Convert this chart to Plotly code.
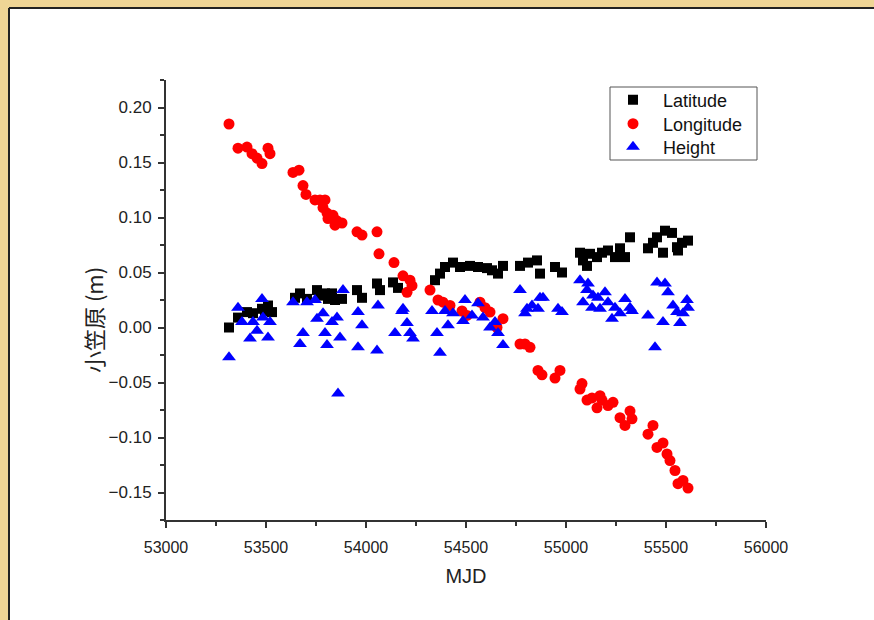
import plotly.graph_objects as go

# ---- data ----
lat_x = [53315, 53360, 53405, 53435, 53480, 53495, 53510, 53530, 53645, 53670, 53705, 53755,
         53770, 53795, 53810, 53830, 53845, 53880, 53955, 53980, 54055, 54070, 54135, 54160,
         54345, 54370, 54395, 54435, 54470, 54520, 54560, 54605, 54630, 54660, 54685, 54770,
         54810, 54855, 54870, 54945, 54980, 55070, 55085, 55105, 55120, 55155, 55180, 55210,
         55245, 55270, 55295, 55320, 55410, 55435, 55455, 55485, 55495, 55530, 55555, 55560,
         55580, 55610]
lat_y = [0.000, 0.009, 0.014, 0.013, 0.017, 0.015, 0.020, 0.014, 0.027, 0.031, 0.026, 0.034,
         0.029, 0.031, 0.026, 0.031, 0.025, 0.026, 0.034, 0.027, 0.040, 0.034, 0.041, 0.036,
         0.043, 0.049, 0.055, 0.059, 0.055, 0.056, 0.055, 0.054, 0.052, 0.049, 0.056, 0.056,
         0.059, 0.061, 0.049, 0.055, 0.050, 0.068, 0.061, 0.056, 0.067, 0.064, 0.068, 0.070,
         0.064, 0.072, 0.064, 0.082, 0.072, 0.077, 0.082, 0.068, 0.088, 0.086, 0.073, 0.070,
         0.077, 0.079]

lon_x = [53315, 53360, 53405, 53430, 53455, 53480, 53510, 53520, 53635, 53665, 53685, 53700,
         53745, 53770, 53795, 53785, 53805, 53810, 53835, 53855, 53845, 53880, 53955, 53980,
         54055, 54065, 54140, 54185, 54220, 54230, 54205, 54320, 54360, 54385, 54420, 54480,
         54505, 54570, 54595, 54620, 54685, 54655, 54770, 54795, 54820, 54860, 54880, 54970,
         54945, 55080, 55070, 55105, 55130, 55155, 55170, 55180, 55210, 55235, 55270, 55295,
         55320, 55330, 55410, 55435, 55455, 55485, 55505, 55520, 55545, 55560, 55585, 55610]
lon_y = [0.185, 0.163, 0.164, 0.158, 0.154, 0.149, 0.163, 0.158, 0.141, 0.143, 0.129, 0.121,
         0.116, 0.116, 0.116, 0.109, 0.104, 0.099, 0.102, 0.097, 0.093, 0.095, 0.087, 0.084,
         0.087, 0.067, 0.059, 0.047, 0.043, 0.038, 0.032, 0.034, 0.025, 0.023, 0.020, 0.015,
         0.011, 0.023, 0.018, 0.014, 0.008, 0.000, -0.015, -0.015, -0.018, -0.039, -0.043, -0.039,
         -0.046, -0.051, -0.056, -0.066, -0.064, -0.073, -0.062, -0.066, -0.071, -0.068, -0.082, -0.089,
         -0.076, -0.083, -0.097, -0.089, -0.109, -0.105, -0.115, -0.121, -0.130, -0.142, -0.139, -0.146]

hgt_x = [53315, 53360, 53380, 53420, 53435, 53455, 53480, 53485, 53510, 53520, 53635, 53670,
         53685, 53705, 53745, 53755, 53785, 53795, 53805, 53830, 53855, 53870, 53885, 53860,
         53960, 53980, 53960, 54060, 54055, 54145, 54180, 54185, 54205, 54220, 54235, 54330,
         54355, 54370, 54395, 54410, 54435, 54495, 54485, 54530, 54560, 54585, 54620, 54645,
         54660, 54685, 54770, 54805, 54830, 54870, 54860, 54795, 54885, 54960, 54980, 55070,
         55110, 55105, 55085, 55135, 55130, 55160, 55170, 55195, 55210, 55230, 55245, 55270,
         55295, 55320, 55330, 55410, 55445, 55455, 55495, 55510, 55485, 55535, 55555, 55570,
         55605, 55610, 55585]
hgt_y = [-0.027, 0.018, 0.005, -0.010, 0.005, -0.003, 0.026, 0.009, -0.009, 0.005, 0.023, -0.015,
         -0.005, 0.023, 0.025, 0.008, 0.013, -0.005, -0.016, 0.005, 0.009, -0.009, 0.034, -0.060,
         0.014, 0.002, -0.018, 0.020, -0.021, -0.005, 0.015, 0.017, 0.004, -0.005, -0.010, 0.015,
         -0.005, -0.023, 0.015, 0.002, 0.013, 0.025, 0.006, 0.011, 0.022, 0.009, 0.000, 0.005,
         -0.005, -0.016, 0.034, 0.017, 0.020, 0.027, 0.017, 0.013, 0.027, 0.017, 0.014, 0.043,
         0.040, 0.034, 0.023, 0.029, 0.018, 0.027, 0.017, 0.032, 0.023, 0.008, 0.018, 0.013,
         0.026, 0.018, 0.015, 0.011, -0.018, 0.041, 0.040, 0.032, 0.005, 0.020, 0.014, 0.004,
         0.025, 0.018, 0.013]

x_range = [53000, 56000]
y_range = [-0.175, 0.225]
x_ticks = [53000, 53500, 54000, 54500, 55000, 55500, 56000]
y_ticks = [-0.15, -0.10, -0.05, 0.00, 0.05, 0.10, 0.15, 0.20]

FONT = "Liberation Sans, Arial, sans-serif"
GOLD = "#efd595"

fig = go.Figure()
fig.add_trace(go.Scatter(x=lat_x, y=lat_y, mode="markers", name="Latitude", legend="legend",
                         marker=dict(symbol="square", size=10, color="#000000", line=dict(width=0))))
fig.add_trace(go.Scatter(x=lon_x, y=lon_y, mode="markers", name="Longitude", legend="legend2",
                         marker=dict(symbol="circle", size=11, color="#ff0000", line=dict(width=0))))
fig.add_trace(go.Scatter(x=hgt_x, y=hgt_y, mode="markers", name="Height", legend="legend3",
                         marker=dict(symbol="triangle-up", size=12, color="#0000ff", line=dict(width=0))))

# plot area: x 166..766 px, y 80..520 px
L, R, T, B = 166, 108, 80, 100
W, H = 874, 620
pw, ph = W - L - R, H - T - B

def px_x(p):
    return (p - L) / pw

def px_y(p):
    return (H - B - p) / ph

shapes = [
    # golden frame strips (left and top)
    dict(type="rect", xref="paper", yref="paper", x0=px_x(0), x1=px_x(9), y0=px_y(H), y1=px_y(0),
         fillcolor=GOLD, line=dict(width=0), layer="below"),
    dict(type="rect", xref="paper", yref="paper", x0=px_x(0), x1=px_x(W), y0=px_y(8), y1=px_y(0),
         fillcolor=GOLD, line=dict(width=0), layer="below"),
    # dark edge lines of the white panel
    dict(type="line", xref="paper", yref="paper", x0=px_x(9), x1=px_x(9), y0=px_y(H), y1=px_y(8),
         line=dict(color="#222222", width=2), layer="below"),
    dict(type="line", xref="paper", yref="paper", x0=px_x(9), x1=px_x(W), y0=px_y(8), y1=px_y(8),
         line=dict(color="#222222", width=2), layer="below"),
    # white panel on the right edge (keeps the right side white)
    dict(type="rect", xref="paper", yref="paper", x0=px_x(800), x1=px_x(W), y0=px_y(H), y1=px_y(9),
         fillcolor="white", line=dict(width=0), layer="above"),
    # legend box
    dict(type="rect", xref="paper", yref="paper", x0=px_x(610), x1=px_x(757), y0=px_y(160), y1=px_y(87),
         fillcolor="white", line=dict(color="#555555", width=1), layer="below"),
]

leg_common = dict(xanchor="left", yanchor="middle", borderwidth=0, bgcolor="rgba(0,0,0,0)",
                  font=dict(family=FONT, size=18, color="#111111"), itemwidth=50)

fig.update_layout(
    width=W, height=H,
    margin=dict(l=L, r=R, t=T, b=B),
    paper_bgcolor="white",
    plot_bgcolor="rgba(0,0,0,0)",
    font=dict(family=FONT, color="#222222", size=16),
    showlegend=True,
    legend=dict(x=px_x(603), y=px_y(100), **leg_common),
    legend2=dict(x=px_x(603), y=px_y(124), **leg_common),
    legend3=dict(x=px_x(603), y=px_y(147), **leg_common),
    shapes=shapes,
    annotations=[dict(text="小笠原 (m)", textangle=-90, xref="paper", yref="paper",
                      x=px_x(93), y=px_y(320), xanchor="center", yanchor="middle", showarrow=False,
                      font=dict(size=22, family="Noto Sans CJK JP, sans-serif", color="#222222"))],
)

fig.update_xaxes(
    range=x_range, tickvals=x_ticks, tickformat="d",
    showgrid=False, zeroline=False,
    showline=True, linecolor="#333333", linewidth=2,
    ticks="outside", ticklen=6, tickwidth=1.5, tickcolor="#333333",
    minor=dict(dtick=250, ticks="outside", ticklen=4, tickwidth=1.5, tickcolor="#333333", showgrid=False),
    tickfont=dict(size=16, family=FONT, color="#222222"),
    ticklabelstandoff=6,
    title=dict(text="MJD", font=dict(size=20, family=FONT, color="#222222"), standoff=14),
)
fig.update_yaxes(
    range=y_range, tickvals=y_ticks, tickformat=".2f",
    showgrid=False, zeroline=False,
    showline=True, linecolor="#333333", linewidth=2,
    ticks="outside", ticklen=6, tickwidth=1.5, tickcolor="#333333",
    minor=dict(dtick=0.025, tick0=0, ticks="outside", ticklen=4, tickwidth=1.5, tickcolor="#333333", showgrid=False),
    tickfont=dict(size=17, family=FONT, color="#222222"),
    ticklabelstandoff=3,
)

fig.write_html("out.html")
